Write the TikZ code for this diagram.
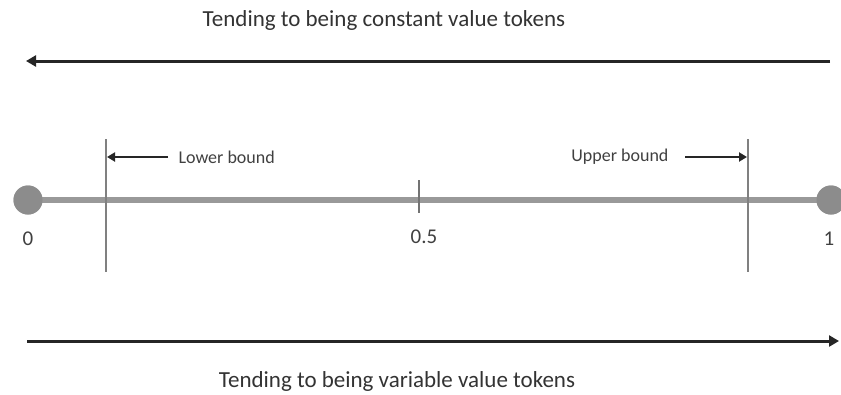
\documentclass[tikz,border=0pt]{standalone}
\usepackage{fontspec}
\setmainfont{Carlito}
\usetikzlibrary{arrows.meta}
\begin{document}
\begin{tikzpicture}[x=1pt,y=-1pt,
  bigarrow/.style={line width=3pt,draw=black!85,-{Triangle[length=10pt,width=11pt]}},
  smallarrow/.style={line width=2.2pt,draw=black!85,-{Triangle[length=8pt,width=9pt]}},
  axisline/.style={line width=6pt,draw=black!40},
  endpoint/.style={circle,fill=black!45,minimum size=29pt,inner sep=0pt},
  boundline/.style={line width=1.3pt,draw=black!50},
  title/.style={font=\fontsize{23}{26}\selectfont,text=black!80},
  small/.style={font=\fontsize{18}{20}\selectfont,text=black!75},
  numlab/.style={font=\fontsize{21}{24}\selectfont,text=black!75}]
\useasboundingbox (0,0) rectangle (841,394);
% top
\node[title] (ttop) at (384,20) {Tending to being constant value tokens};
\coordinate (ta) at (830,61);
\coordinate (tb) at (26,61);
\draw[bigarrow] (ta) -- (tb);
% axis
\node[endpoint] (p0) at (28,200) {};
\node[endpoint] (p1) at (831,200) {};
\draw[axisline] (p0.center) -- (p1.center);
\node[endpoint] at (28,200) {};
\node[endpoint] at (831,200) {};
% bounds
\coordinate (lt) at (106,139);
\coordinate (lb) at (106,272);
\coordinate (ut) at (748,139);
\coordinate (ub) at (748,272);
\draw[boundline] (lt) -- (lb);
\draw[boundline] (ut) -- (ub);
\coordinate (mt) at (419,180);
\coordinate (mb) at (419,213);
\draw[line width=1.3pt,draw=black!55] (mt) -- (mb);
% labels
\node[numlab] (l0) at (28,239) {0};
\node[numlab] (l5) at (424,237) {0.5};
\node[numlab] (l1) at (829,239) {1};
\node[small,anchor=west] (lowt) at (175,157) {Lower bound};
\node[small,anchor=east] (upt) at (672,157) {Upper bound};
\coordinate (la) at (168,157);
\coordinate (lend) at (107,157);
\draw[smallarrow] (la) -- (lend);
\coordinate (ua) at (685,157);
\coordinate (uend) at (747,157);
\draw[smallarrow] (ua) -- (uend);
% bottom
\coordinate (ba) at (27,341);
\coordinate (bb) at (839,341);
\draw[bigarrow] (ba) -- (bb);
\node[title] (tbot) at (397,381) {Tending to being variable value tokens};
\end{tikzpicture}
\end{document}
